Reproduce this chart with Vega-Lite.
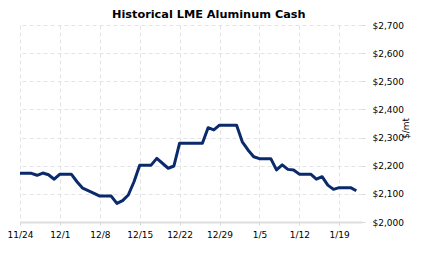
{
  "$schema": "https://vega.github.io/schema/vega-lite/v6.json",
  "width": 342,
  "height": 197,
  "autosize": {"type": "none"},
  "padding": {"left": 20, "top": 25, "right": 61, "bottom": 35},
  "background": "white",
  "title": {
    "text": "Historical LME Aluminum Cash",
    "font": "DejaVu Sans",
    "fontSize": 11.3,
    "fontWeight": "bold",
    "color": "#000000",
    "anchor": "middle",
    "frame": "bounds",
    "offset": 1
  },
  "config": {
    "view": {"stroke": null},
    "axis": {
      "labelFont": "DejaVu Sans",
      "labelFontSize": 9,
      "labelColor": "#000000",
      "titleFont": "DejaVu Sans",
      "titleFontSize": 9,
      "titleFontWeight": "normal",
      "titleColor": "#000000",
      "gridColor": "#e3e3e3",
      "gridDash": [4, 3],
      "gridWidth": 1,
      "tickColor": "#d6d6d6",
      "tickSize": 3
    }
  },
  "data": {
    "values": [
      {"date": "2014-11-24", "price": 2173},
      {"date": "2014-11-26", "price": 2173},
      {"date": "2014-11-27", "price": 2166},
      {"date": "2014-11-28", "price": 2174},
      {"date": "2014-11-29", "price": 2168},
      {"date": "2014-11-30", "price": 2152},
      {"date": "2014-12-01", "price": 2170},
      {"date": "2014-12-03", "price": 2170},
      {"date": "2014-12-04", "price": 2143},
      {"date": "2014-12-05", "price": 2120},
      {"date": "2014-12-07", "price": 2102},
      {"date": "2014-12-08", "price": 2092},
      {"date": "2014-12-10", "price": 2092},
      {"date": "2014-12-11", "price": 2066},
      {"date": "2014-12-12", "price": 2076},
      {"date": "2014-12-13", "price": 2096},
      {"date": "2014-12-14", "price": 2143},
      {"date": "2014-12-15", "price": 2202},
      {"date": "2014-12-17", "price": 2202},
      {"date": "2014-12-18", "price": 2226},
      {"date": "2014-12-20", "price": 2191},
      {"date": "2014-12-21", "price": 2199},
      {"date": "2014-12-22", "price": 2280},
      {"date": "2014-12-26", "price": 2280},
      {"date": "2014-12-27", "price": 2335},
      {"date": "2014-12-28", "price": 2327},
      {"date": "2014-12-29", "price": 2344},
      {"date": "2015-01-01", "price": 2344},
      {"date": "2015-01-02", "price": 2285},
      {"date": "2015-01-03", "price": 2256},
      {"date": "2015-01-04", "price": 2232},
      {"date": "2015-01-05", "price": 2225},
      {"date": "2015-01-07", "price": 2225},
      {"date": "2015-01-08", "price": 2185},
      {"date": "2015-01-09", "price": 2203},
      {"date": "2015-01-10", "price": 2187},
      {"date": "2015-01-11", "price": 2185},
      {"date": "2015-01-12", "price": 2170},
      {"date": "2015-01-14", "price": 2170},
      {"date": "2015-01-15", "price": 2152},
      {"date": "2015-01-16", "price": 2161},
      {"date": "2015-01-17", "price": 2131},
      {"date": "2015-01-18", "price": 2116},
      {"date": "2015-01-19", "price": 2122},
      {"date": "2015-01-21", "price": 2122},
      {"date": "2015-01-22", "price": 2111}
    ]
  },
  "mark": {"type": "line", "color": "#0b2a6c", "strokeWidth": 3, "strokeJoin": "round"},
  "encoding": {
    "x": {
      "field": "date",
      "type": "temporal",
      "scale": {
        "type": "utc",
        "domain": [
          {"year": 2014, "month": 11, "date": 24, "utc": true},
          {"year": 2015, "month": 1, "date": 23, "utc": true}
        ]
      },
      "axis": {
        "title": null,
        "format": "%-m/%-d",
        "values": [
          {"year": 2014, "month": 11, "date": 24, "utc": true},
          {"year": 2014, "month": 12, "date": 1, "utc": true},
          {"year": 2014, "month": 12, "date": 8, "utc": true},
          {"year": 2014, "month": 12, "date": 15, "utc": true},
          {"year": 2014, "month": 12, "date": 22, "utc": true},
          {"year": 2014, "month": 12, "date": 29, "utc": true},
          {"year": 2015, "month": 1, "date": 5, "utc": true},
          {"year": 2015, "month": 1, "date": 12, "utc": true},
          {"year": 2015, "month": 1, "date": 19, "utc": true}
        ],
        "domain": true,
        "domainColor": "#dedede",
        "domainWidth": 2,
        "labelPadding": 5,
        "labelFlush": false
      }
    },
    "y": {
      "field": "price",
      "type": "quantitative",
      "scale": {"domain": [2000, 2700], "nice": false, "zero": false},
      "axis": {
        "orient": "right",
        "title": "$/mt",
        "titleAngle": -90,
        "titlePadding": 7,
        "titleY": 103,
        "values": [2000, 2100, 2200, 2300, 2400, 2500, 2600, 2700],
        "format": "$,d",
        "domain": false,
        "labelPadding": 7
      }
    }
  }
}
